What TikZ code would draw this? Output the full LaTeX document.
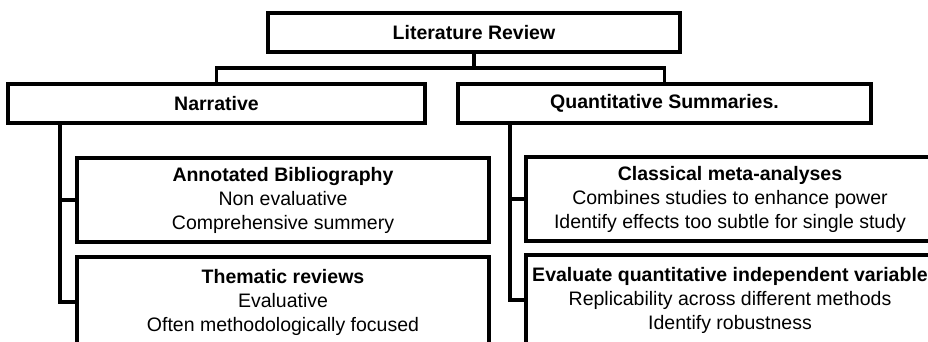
\documentclass[tikz,border=0pt]{standalone}
\usepackage{fontspec}
\setmainfont{Liberation Sans}
\begin{document}
\begin{tikzpicture}[x=1pt,y=-1pt,
  boxnode/.style={draw=black,line width=3.2pt,inner sep=0pt,align=center,
    font=\fontsize{19.5}{24}\selectfont},
  conn/.style={draw=black,line width=3.2pt,line join=miter,line cap=rect}]
\useasboundingbox (0,0) rectangle (928,341);
\clip (0,0) rectangle (928,341);
\node[boxnode,minimum width=412,minimum height=39] (lit) at (474,32.5) {\textbf{Literature Review}};
\node[boxnode,minimum width=417,minimum height=39] (nar) at (216.5,103.5) {\textbf{Narrative}};
\node[boxnode,minimum width=413,minimum height=39] (quant) at (664.5,103.5) {\textbf{Quantitative Summaries.}};
\node[boxnode,minimum width=412,minimum height=84] (ann) at (283,200) {\textbf{Annotated Bibliography}\\Non evaluative\\Comprehensive summery};
\node[boxnode,minimum width=412,minimum height=90] (them) at (283,302) {\textbf{Thematic reviews}\\Evaluative\\Often methodologically focused};
\node[boxnode,minimum width=408,minimum height=84] (clas) at (730,199) {\textbf{Classical meta-analyses}\\Combines studies to enhance power\\Identify effects too subtle for single study};
\node[boxnode,minimum width=408,minimum height=90] (eval) at (730,300) {\textbf{Evaluate quantitative independent variable}\\Replicability across different methods\\Identify robustness};
\coordinate (bus) at (0,68);
\coordinate (ls) at (60,0);
\coordinate (rs) at (510,0);
\draw[conn] (lit.south) -- (lit.south |- bus);
\draw[conn] (nar.north) -- (nar.north |- bus) -- (quant.north |- bus) -- (quant.north);
\draw[conn] (nar.south -| ls) |- (them.west);
\draw[conn] (ls |- ann.west) -- (ann.west);
\draw[conn] (quant.south -| rs) |- (eval.west);
\draw[conn] (rs |- clas.west) -- (clas.west);
\end{tikzpicture}
\end{document}
